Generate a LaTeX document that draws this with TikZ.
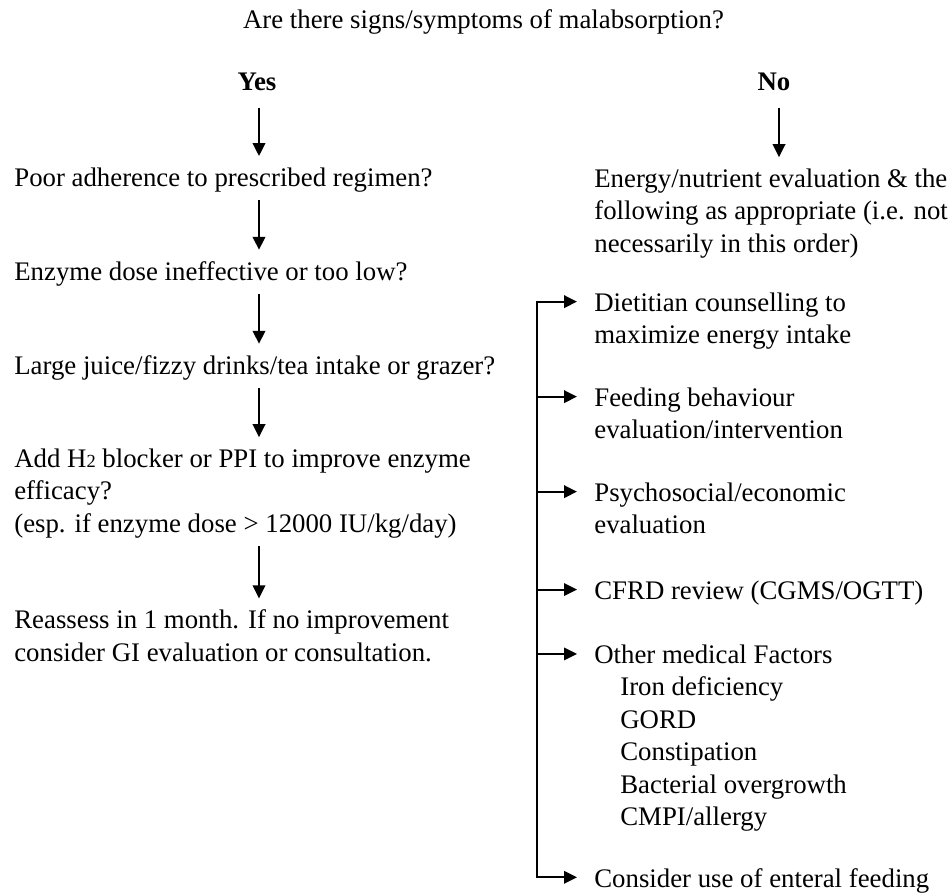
\documentclass[tikz,border=0pt]{standalone}
\usepackage{fontspec}
\setmainfont{Liberation Serif}
\usetikzlibrary{arrows.meta}

\tikzset{
    txt/.style={anchor=base west, inner sep=0pt, align=left, font=\fontsize{15.25}{18.45}\selectfont},
    head/.style={anchor=base, inner sep=0pt, font=\fontsize{15.25}{18.45}\selectfont},
    arr/.style={-{Triangle[width=0.25cm,length=0.26cm]}, line width=1.1pt},
    down/.style={arr, shorten <=0.16cm, shorten >=0.22cm}
}

\begin{document}
\begin{tikzpicture}
        \useasboundingbox (0,0) rectangle (18.98,-17.86);

        \node[head] (question) at (9.67,-0.57) {Are there signs/symptoms of malabsorption?};
        \node[head] (yes) at (5.14,-1.8) {\textbf{Yes}};
        \node[head] (no) at (15.48,-1.8) {\textbf{No}};
        \coordinate (yesline) at (5.18,0);
        \coordinate (noline) at (15.58,0);
        \coordinate (bracket) at (10.74,0);

        \node[txt] (adherence) at (0.28,-3.72) {Poor adherence to prescribed regimen?};
        \node[txt] (dose) at (0.28,-5.6) {Enzyme dose ineffective or too low?};
        \node[txt] (juice) at (0.28,-7.48) {Large juice/fizzy drinks/tea intake or grazer?};
        \node[txt] (blocker) at (0.28,-10.64) {Add H{\fontsize{10.5}{10.5}\selectfont 2} blocker or PPI to improve enzyme\\efficacy?\\(esp. if enzyme dose > 12000 IU/kg/day)};
        \node[txt] (reassess) at (0.28,-13.22) {Reassess in 1 month. If no improvement\\consider GI evaluation or consultation.};

        \draw[arr, shorten <=0.34cm, shorten >=0.22cm] (yesline |- yes.south) -- (yesline |- adherence.north);
        \draw[down] (yesline |- adherence.south) -- (yesline |- dose.north);
        \draw[down] (yesline |- dose.south) -- (yesline |- juice.north);
        \draw[down] (yesline |- juice.south) -- (yesline |- blocker.north);
        \draw[down] (yesline |- blocker.south) -- (yesline |- reassess.north);

        \node[txt] (energy) at (11.88,-5.04) {Energy/nutrient evaluation \& the\\following as appropriate (i.e. not\\necessarily in this order)};
        \node[txt] (dietitian) at (11.88,-6.87) {Dietitian counselling to\\maximize energy intake};
        \node[txt] (feeding) at (11.88,-8.77) {Feeding behaviour\\evaluation/intervention};
        \node[txt] (psycho) at (11.88,-10.67) {Psychosocial/economic\\evaluation};
        \node[txt] (cfrd) at (11.88,-11.98) {CFRD review (CGMS/OGTT)};
        \node[txt] (medical) at (11.88,-16.51) {Other medical Factors\\\hspace*{0.52cm}Iron deficiency\\\hspace*{0.52cm}GORD\\\hspace*{0.52cm}Constipation\\\hspace*{0.52cm}Bacterial overgrowth\\\hspace*{0.52cm}CMPI/allergy};
        \node[txt] (enteral) at (11.88,-17.74) {Consider use of enteral feeding};

        \draw[arr, shorten <=0.34cm, shorten >=0.22cm] (noline |- no.south) -- (noline |- energy.north);

        \draw[{Triangle[width=0.25cm,length=0.26cm]}-{Triangle[width=0.25cm,length=0.26cm]}, line width=1.1pt]
            ([yshift=-0.19cm,xshift=-0.34cm]dietitian.north west) -- ([yshift=-0.19cm]dietitian.north -| bracket)
            -- ([yshift=-0.19cm]enteral.north -| bracket) -- ([yshift=-0.19cm,xshift=-0.34cm]enteral.north west);
        \foreach \n in {feeding,psycho,cfrd,medical}
            \draw[arr] ([yshift=-0.19cm]\n.north -| bracket) -- ([yshift=-0.19cm,xshift=-0.34cm]\n.north west);
\end{tikzpicture}
\end{document}
